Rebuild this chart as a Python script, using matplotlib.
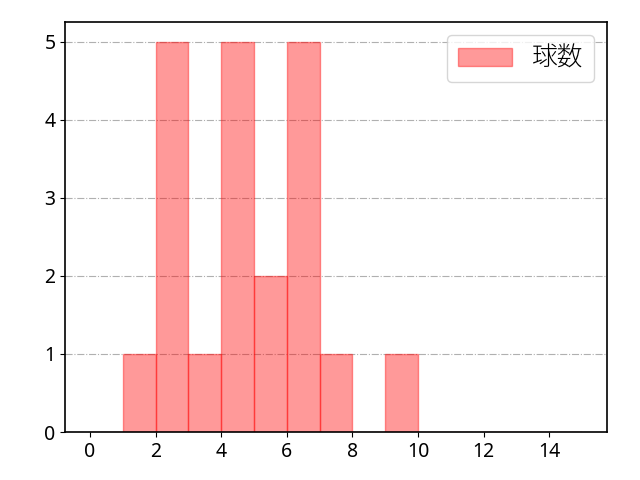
import matplotlib
matplotlib.use("Agg")
import matplotlib.pyplot as plt
import numpy as np

plt.rcParams['font.family'] = ['Noto Sans', 'Noto Sans CJK JP', 'DejaVu Sans']

# 球数ごとの値（ヒストグラム用の生データ）
pitch_counts = [1, 2, 2, 2, 2, 2, 3, 4, 4, 4, 4, 4, 5, 5, 6, 6, 6, 6, 6, 7, 9]
bin_edges = list(range(0, 16))
label = "球数"

fig = plt.figure(figsize=(6.4, 4.8), dpi=100)
ax = fig.add_subplot(111)

ax.hist(pitch_counts, bins=bin_edges, color='red', alpha=0.4,
        edgecolor='red', linewidth=1, label=label)

ax.grid(True, axis='y', linestyle='-.', color='#b0b0b0', linewidth=0.8)
ax.set_axisbelow(True)
ax.set_xticks(range(0, 16, 2))
ax.set_yticks(range(0, 6))
ax.tick_params(labelsize=14)
for s in ax.spines.values():
    s.set_linewidth(1.2)
ax.legend(loc='upper right', handlelength=2.1,
          prop={'family': ['Noto Sans CJK JP', 'DejaVu Sans'], 'size': 18.5, 'weight': 'light'})

plt.subplots_adjust(left=0.102, right=0.948, bottom=0.1, top=0.954)
plt.savefig("out.png", dpi=100)
